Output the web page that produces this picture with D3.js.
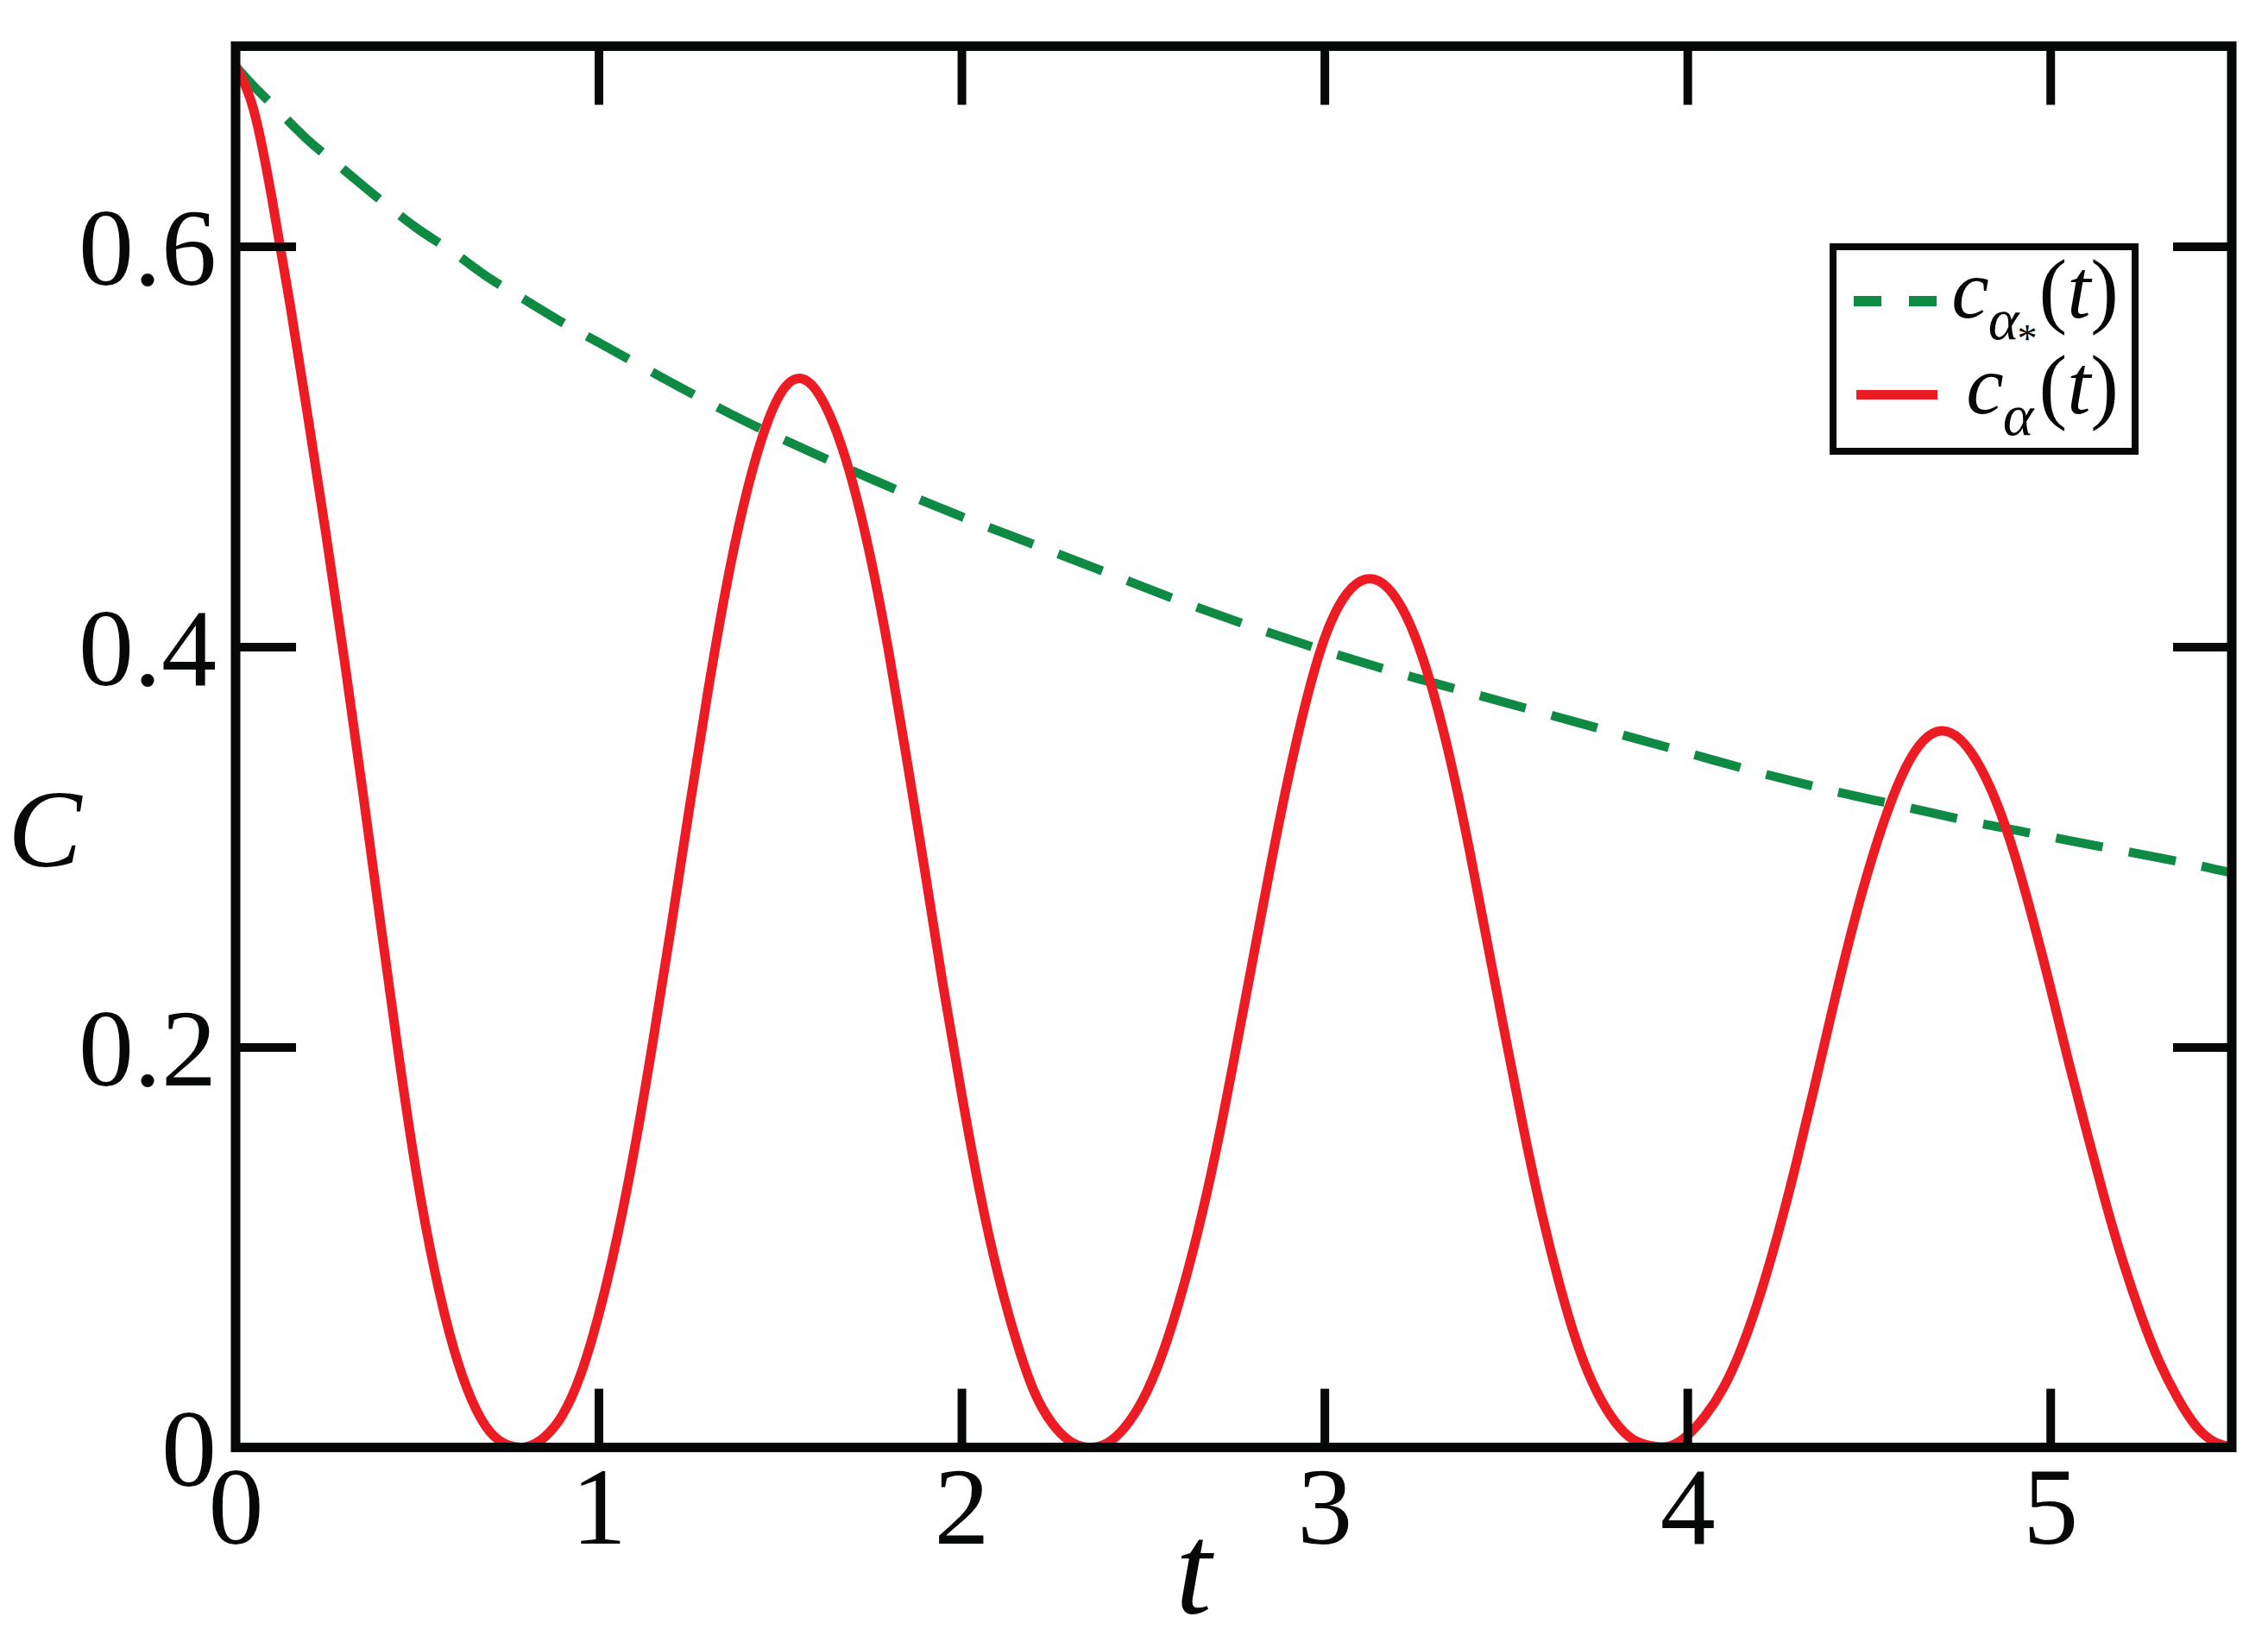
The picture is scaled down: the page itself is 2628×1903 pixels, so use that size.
<!DOCTYPE html>
<html lang="en">
  <head>
    <meta charset="utf-8" />
    <title>c(t)</title>
    <style>
      body { margin: 0; background: #fff; }
      text { font-family: "Liberation Serif", "Times New Roman", serif; fill: #050806; }
    </style>
  </head>
  <body>
    <svg id="viz"></svg>
    <script src="https://d3js.org/d3.v7.min.js"></script>
    <script>
        var width = 2628;
        var height = 1903;

        // red curve c_alpha(t), every 0.05
        var redT = [0, 0.05, 0.1, 0.15, 0.2, 0.25, 0.3, 0.35, 0.4, 0.45, 0.5, 0.55, 0.6, 0.65, 0.7, 0.75,
            0.8, 0.85, 0.9, 0.95, 1.0, 1.05, 1.1, 1.15, 1.2, 1.25, 1.3, 1.35, 1.4, 1.45, 1.5, 1.55,
            1.6, 1.65, 1.7, 1.75, 1.8, 1.85, 1.9, 1.95, 2.0, 2.05, 2.1, 2.15, 2.2, 2.25, 2.3, 2.35,
            2.4, 2.45, 2.5, 2.55, 2.6, 2.65, 2.7, 2.75, 2.8, 2.85, 2.9, 2.95, 3.0, 3.05, 3.1, 3.15,
            3.2, 3.25, 3.3, 3.35, 3.4, 3.45, 3.5, 3.55, 3.6, 3.65, 3.7, 3.75, 3.8, 3.85, 3.9, 3.95,
            4.0, 4.05, 4.1, 4.15, 4.2, 4.25, 4.3, 4.35, 4.4, 4.45, 4.5, 4.55, 4.6, 4.65, 4.7, 4.75,
            4.8, 4.85, 4.9, 4.95, 5.0, 5.05, 5.1, 5.15, 5.2, 5.25, 5.3, 5.35, 5.4, 5.45, 5.5];
        var redC = [0.69, 0.668, 0.624, 0.571, 0.514, 0.455, 0.393, 0.328, 0.261, 0.195, 0.135, 0.087, 0.05, 0.024, 0.008, 0.0012,
            0.0003, 0.005, 0.016, 0.036, 0.066, 0.104, 0.15, 0.203, 0.26, 0.319, 0.376, 0.428, 0.471, 0.504, 0.526, 0.534,
            0.528, 0.51, 0.482, 0.444, 0.397, 0.343, 0.287, 0.23, 0.177, 0.128, 0.087, 0.054, 0.028, 0.012, 0.003, 0,
            0.002, 0.01, 0.024, 0.045, 0.073, 0.107, 0.147, 0.193, 0.241, 0.289, 0.334, 0.373, 0.404, 0.4235, 0.4328, 0.4328,
            0.4235, 0.405, 0.377, 0.341, 0.298, 0.251, 0.204, 0.158, 0.116, 0.08, 0.05, 0.028, 0.013, 0.004, 0.0008, 0.0006,
            0.006, 0.016, 0.03, 0.05, 0.076, 0.107, 0.142, 0.18, 0.219, 0.256, 0.289, 0.317, 0.339, 0.353, 0.358, 0.354,
            0.342, 0.323, 0.297, 0.265, 0.23, 0.193, 0.158, 0.124, 0.093, 0.066, 0.043, 0.025, 0.011, 0.003, 0];

        // green dashed curve c_alpha*(t)
        var greenT = [0, 0.05, 0.1, 0.2, 0.3, 0.4, 0.5, 0.6, 0.7, 0.8, 0.9, 1.0, 1.2, 1.4, 1.6, 1.8, 2.0, 2.2, 2.4, 2.6, 2.8,
            3.0, 3.2, 3.4, 3.6, 3.8, 4.0, 4.2, 4.4, 4.6, 4.8, 5.0, 5.2, 5.4, 5.5];
        var greenC = [0.69, 0.68, 0.671, 0.653, 0.638, 0.623, 0.609, 0.597, 0.584, 0.573, 0.562, 0.552, 0.532, 0.513, 0.496, 0.48, 0.465, 0.451, 0.437, 0.423, 0.41,
            0.398, 0.387, 0.377, 0.367, 0.357, 0.347, 0.337, 0.328, 0.32, 0.312, 0.305, 0.298, 0.291, 0.287];

        var xTicks = [0, 1, 2, 3, 4, 5];
        var yTicks = [0, 0.2, 0.4, 0.6];

        var red = "#ed1c24";
        var green = "#0f8a44";
        var ink = "#050806";

        var x = d3.scaleLinear().domain([0, 5.5]).range([273, 2586]);
        var y = d3.scaleLinear().domain([0, 0.7]).range([1677.5, 53.5]);

        var svg = d3.select("#viz")
            .attr("width", width)
            .attr("height", height);

        svg.append("rect").attr("width", width).attr("height", height).attr("fill", "#fff");

        var line = d3.line()
            .x(function(d) { return x(d[0]); })
            .y(function(d) { return y(d[1]); })
            .curve(d3.curveNatural);

        svg.append("path")
            .datum(greenT.map(function(t, i) { return [t, greenC[i]]; }))
            .attr("d", line.curve(d3.curveCatmullRom.alpha(0.5)))
            .attr("fill", "none")
            .attr("stroke", green)
            .attr("stroke-width", 10.5)
            .attr("stroke-dasharray", "55,31");

        svg.append("path")
            .datum(redT.map(function(t, i) { return [t, redC[i]]; }))
            .attr("d", line.curve(d3.curveNatural))
            .attr("fill", "none")
            .attr("stroke", red)
            .attr("stroke-width", 11)
            .attr("stroke-linejoin", "round");

        // ticks pointing inwards on all four sides
        function styleAxis(g) {
            g.select(".domain").remove();
            g.selectAll(".tick line").attr("stroke", ink).attr("stroke-width", 10);
            g.selectAll(".tick text")
                .attr("fill", ink)
                .style("font-size", "128px")
                .style("font-family", "'Liberation Serif', 'Times New Roman', serif");
        }

        svg.append("g")
            .attr("transform", "translate(0," + y(0) + ")")
            .call(d3.axisBottom(x).tickValues(xTicks).tickSizeInner(-68).tickSizeOuter(0).tickPadding(21)
                .tickFormat(d3.format("d")))
            .call(styleAxis)
            .selectAll(".tick text").attr("dy", "0.71em");

        svg.append("g")
            .attr("transform", "translate(0," + y(0.7) + ")")
            .call(d3.axisTop(x).tickValues(xTicks.slice(1)).tickSizeInner(-68).tickSizeOuter(0).tickFormat(""))
            .call(styleAxis);

        svg.append("g")
            .attr("transform", "translate(" + x(0) + ",0)")
            .call(d3.axisLeft(y).tickValues(yTicks).tickSizeInner(-70).tickSizeOuter(0).tickPadding(22)
                .tickFormat(function(d) { return d === 0 ? "0" : d3.format(".1f")(d); }))
            .call(styleAxis)
            .selectAll(".tick text").attr("dy", "0.34em");

        svg.append("g")
            .attr("transform", "translate(" + x(5.5) + ",0)")
            .call(d3.axisRight(y).tickValues(yTicks.slice(1)).tickSizeInner(-68).tickSizeOuter(0).tickFormat(""))
            .call(styleAxis);

        // the tick at 0 sits on the frame
        svg.selectAll(".tick").filter(function(d) { return d === 0; }).select("line").remove();

        // frame
        svg.append("rect")
            .attr("x", x(0))
            .attr("y", y(0.7))
            .attr("width", x(5.5) - x(0))
            .attr("height", y(0) - y(0.7))
            .attr("fill", "none")
            .attr("stroke", ink)
            .attr("stroke-width", 11);

        // axis titles
        svg.append("text")
            .attr("x", 52)
            .attr("y", 1004)
            .attr("text-anchor", "middle")
            .style("font-size", "128px")
            .style("font-style", "italic")
            .text("C");

        svg.append("text")
            .attr("x", 1383)
            .attr("y", 1870)
            .attr("text-anchor", "middle")
            .style("font-size", "150px")
            .style("font-style", "italic")
            .text("t");

        // legend
        var legend = svg.append("g");

        legend.append("rect")
            .attr("x", 2124)
            .attr("y", 286)
            .attr("width", 350)
            .attr("height", 237)
            .attr("fill", "#fff")
            .attr("stroke", ink)
            .attr("stroke-width", 8);

        legend.append("line")
            .attr("x1", 2148).attr("x2", 2244)
            .attr("y1", 349).attr("y2", 349)
            .attr("stroke", green)
            .attr("stroke-width", 12)
            .attr("stroke-dasharray", "32,32");

        legend.append("line")
            .attr("x1", 2151).attr("x2", 2245)
            .attr("y1", 457.5).attr("y2", 457.5)
            .attr("stroke", red)
            .attr("stroke-width", 11);

        var rows = [
            {base: 368, star: true},
            {base: 479, star: false}
        ];

        rows.forEach(function(r) {
            var lab = legend.append("text")
                .attr("x", 2455).attr("y", r.base)
                .attr("text-anchor", "end")
                .style("font-size", "98px");
            lab.append("tspan").style("font-style", "italic").text("c");
            lab.append("tspan").attr("dy", 25).attr("dx", -1)
                .style("font-size", "68px").style("font-style", "italic").text("α");
            var back = -25;
            if (r.star) {
                lab.append("tspan").attr("dy", 15).attr("dx", -2).style("font-size", "46px").text("*");
                back = -40;
            }
            lab.append("tspan").attr("dy", back).attr("dx", r.star ? 2 : 6).text("(");
            lab.append("tspan").style("font-style", "italic").text("t");
            lab.append("tspan").text(")");
        });
    </script>
  </body>
</html>
